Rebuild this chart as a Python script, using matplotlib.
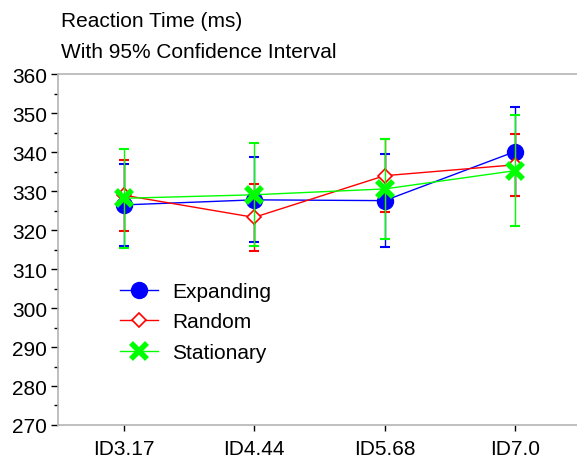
import matplotlib
matplotlib.use("Agg")
import matplotlib.pyplot as plt
from matplotlib.ticker import MultipleLocator

plt.rcParams['font.family'] = ['Liberation Sans', 'DejaVu Sans']

# datos
categorias = ["ID3.17", "ID4.44", "ID5.68", "ID7.0"]
expanding = [326.5, 327.8, 327.6, 340.2]
expanding_err = [10.6, 10.9, 11.9, 11.4]
random_ = [329.0, 323.3, 334.0, 336.8]
random_err = [9.1, 8.6, 9.4, 8.0]
stationary = [328.2, 329.1, 330.6, 335.3]
stationary_err = [12.7, 13.2, 12.9, 14.2]

fig = plt.figure(figsize=(5.77, 4.6), dpi=100)
ax = fig.add_axes([0.101, 0.074, 0.905, 0.762])

x = list(range(len(categorias)))

series = [
    (expanding, expanding_err, "#0000ff", "Expanding",
     dict(marker="o", ms=11.5, mfc="#0000ff", mec="#0000ff")),
    (random_, random_err, "#ff0000", "Random",
     dict(marker="D", ms=7.5, mfc="white", mec="#ff0000", mew=1.2)),
    (stationary, stationary_err, "#00ff00", "Stationary",
     dict(marker="x", ms=11, mew=4, mec="#00ff00")),
]

for vals, err, col, nombre, estilo in series:
    ax.errorbar(x, vals, yerr=err, fmt="none", ecolor=col,
                elinewidth=1.0, capsize=3.5, capthick=1.5)
    ax.plot(x, vals, color=col, lw=1.0, label=nombre, **estilo)

ax.set_xlim(-0.5, 3.5)
ax.set_ylim(270, 360)
ax.set_xticks(x)
ax.set_xticklabels(categorias)
ax.yaxis.set_major_locator(MultipleLocator(10))
ax.yaxis.set_minor_locator(MultipleLocator(5))

for s in ["left", "bottom", "top", "right"]:
    ax.spines[s].set_color("#b4b4b4")
    ax.spines[s].set_linewidth(1.2)

ax.tick_params(axis="both", labelsize=15, colors="black", width=1.0)
ax.tick_params(axis="y", which="major", length=5, pad=3)
ax.tick_params(axis="y", which="minor", length=3, width=1.0)
ax.tick_params(axis="x", length=4, pad=6)

leg = ax.legend(loc="upper left", bbox_to_anchor=(0.119, 0.408), frameon=False,
                fontsize=15, handlelength=1.8, handletextpad=0.7,
                labelspacing=0.55, borderaxespad=0, borderpad=0)

fig.text(0.106, 0.953, "Reaction Time (ms)", fontsize=15, va="center")
fig.text(0.106, 0.886, "With 95% Confidence Interval", fontsize=15, va="center")

fig.savefig("out.png", dpi=100)
